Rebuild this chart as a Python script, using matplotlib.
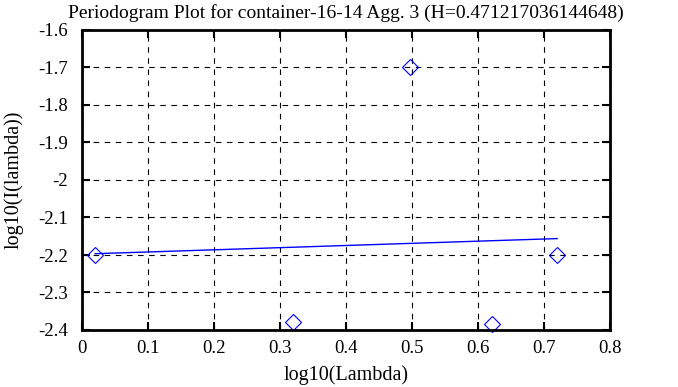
import matplotlib
matplotlib.use("Agg")
import matplotlib.pyplot as plt
import numpy as np

plt.rcParams['font.family'] = ['Liberation Serif', 'DejaVu Serif']

log_lambda = [0.02, 0.32, 0.497, 0.621, 0.72]
log_I = [-2.2, -2.38, -1.70, -2.383, -2.2]
title = "Periodogram Plot for container-16-14 Agg. 3 (H=0.471217036144648)"
xticks = [0, 0.1, 0.2, 0.3, 0.4, 0.5, 0.6, 0.7, 0.8]
yticks = [-2.4, -2.3, -2.2, -2.1, -2, -1.9, -1.8, -1.7, -1.6]

fig = plt.figure(figsize=(6.78, 3.87), dpi=100)
ax = fig.add_axes([82/678, 57/387, 528/678, 300/387])

# least squares fit line
slope, icpt = np.polyfit(log_lambda, log_I, 1)
fx = np.array([log_lambda[0], log_lambda[-1]])
ax.plot(fx, slope*fx + icpt, "b-", lw=1)
ax.plot(log_lambda, log_I, "bD", mfc="none", ms=8.5, mew=0.8, clip_on=False)

ax.set_xlim(0, 0.8)
ax.set_ylim(-2.4, -1.6)
ax.set_xticks(xticks)
ax.set_xticklabels([f"{t:g}" for t in xticks])
ax.set_yticks(yticks)
ax.set_yticklabels([f"{t:g}" for t in yticks])
ax.grid(True, color="black", linestyle=(0, (5, 5)), linewidth=0.8)
ax.tick_params(direction="in", length=6, width=1.5, top=True, right=True, labelsize=13.5)
ax.tick_params(axis="y", pad=10)
ax.tick_params(axis="x", pad=7)
for s in ax.spines.values():
    s.set_linewidth(2)

ax.set_title(title, fontsize=14, pad=9)
ax.set_xlabel("log10(Lambda)", fontsize=14.5, labelpad=6)
ax.set_ylabel("log10(I(lambda))", fontsize=14.5, labelpad=11)

fig.savefig("out.png", dpi=100)
